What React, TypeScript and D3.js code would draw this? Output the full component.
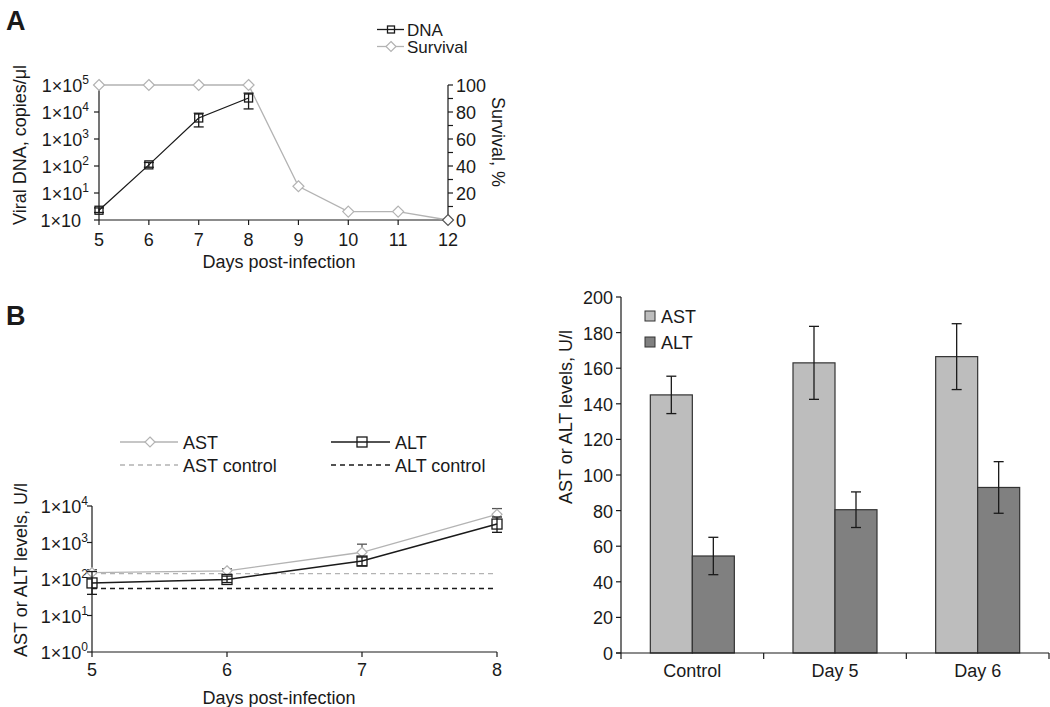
import React from "react";
import * as d3 from "d3";

// Panel A data
const daysA = [5, 6, 7, 8, 9, 10, 11, 12];
const dnaDays = [5, 6, 7, 8];
const dnaValues = [2.3, 110, 6000, 33000];
const dnaLow = [1.9, 90, 2800, 13000];
const dnaHigh = [2.8, 135, 9000, 50000];
const survival = [100, 100, 100, 100, 25, 6.25, 6.25, 0];
const decadesA = [0, 1, 2, 3, 4, 5];
const survTicks = [0, 20, 40, 60, 80, 100];

// Panel B left data
const daysB = [5, 6, 7, 8];
const astValues = [150, 168, 540, 5900];
const astHigh = [180, 190, 900, 8500];
const altValues = [78, 97, 310, 3200];
const altLow = [38, 80, 230, 1900];
const altHigh = [160, 120, 400, 5000];
const astControl = 140;
const altControl = 55;
const decadesB = [0, 1, 2, 3, 4];

// Panel B right data
const groups = ["Control", "Day 5", "Day 6"];
const astBar = [145, 163, 166.5];
const astBarErr = [10.5, 20.5, 18.5];
const altBar = [54.5, 80.5, 93];
const altBarErr = [10.5, 10, 14.5];
const barTicks = [0, 20, 40, 60, 80, 100, 120, 140, 160, 180, 200];

const FONT = "Liberation Sans, Arial, Helvetica, sans-serif";
const DARK = "#1a1a1a";
const LIGHT = "#b3b3b3";
const FS = 18;

function Sup({ x, y, base, exp, anchor = "end" }: any) {
  return (
    <text x={x} y={y} textAnchor={anchor} fontSize={FS} fill={DARK}>
      {base}
      {exp !== null ? (
        <tspan dy={-8} fontSize={12}>
          {exp}
        </tspan>
      ) : null}
    </text>
  );
}

function Square({ x, y, s = 9, stroke = DARK }: any) {
  return <rect x={x - s / 2} y={y - s / 2} width={s} height={s} fill="none" stroke={stroke} strokeWidth={1.3} />;
}
function Diamond({ x, y, s = 6, stroke = LIGHT }: any) {
  return (
    <path
      d={`M${x},${y - s}L${x + s},${y}L${x},${y + s}L${x - s},${y}Z`}
      fill="white"
      stroke={stroke}
      strokeWidth={1.2}
    />
  );
}
function ErrBar({ x, y1, y2, cap = 5, stroke = DARK }: any) {
  return (
    <g stroke={stroke} strokeWidth={1.3}>
      <line x1={x} x2={x} y1={y1} y2={y2} />
      <line x1={x - cap} x2={x + cap} y1={y1} y2={y1} />
      <line x1={x - cap} x2={x + cap} y1={y2} y2={y2} />
    </g>
  );
}

export default function App() {
  // Panel A scales
  const xA = d3.scaleLinear().domain([5, 12]).range([99, 448]);
  const yA = d3.scaleLog().domain([1, 1e5]).range([220, 85]);
  const ySurv = d3.scaleLinear().domain([0, 100]).range([220, 85]);
  const dnaLine = d3.line<number>().x((_, i) => xA(dnaDays[i])).y((v) => yA(v))(dnaValues) || "";
  const survLine = d3.line<number>().x((_, i) => xA(daysA[i])).y((v) => ySurv(v))(survival) || "";
  const survMinor = d3.range(0, 101, 10);

  // Panel B left
  const xB = d3.scaleLinear().domain([5, 8]).range([92, 497]);
  const yB = d3.scaleLog().domain([1, 1e4]).range([652, 506]);
  const astLine = d3.line<number>().x((_, i) => xB(daysB[i])).y((v) => yB(v))(astValues) || "";
  const altLine = d3.line<number>().x((_, i) => xB(daysB[i])).y((v) => yB(v))(altValues) || "";

  // Panel B right
  const xC = d3.scaleBand().domain(groups).range([621, 1049]).paddingInner(0).paddingOuter(0);
  const yC = d3.scaleLinear().domain([0, 200]).range([653, 297]);
  const barW = 42;

  return (
    <svg width={1050} height={707} style={{ display: "block", position: "absolute", left: 0, top: 0 }} fontFamily={FONT}>
      <rect width={1050} height={707} fill="white" />
      {/* Panel labels */}
      <text x={6} y={30} fontSize={27} fontWeight="bold" fill={DARK}>A</text>
      <text x={6} y={325} fontSize={27} fontWeight="bold" fill={DARK}>B</text>

      {/* ===== Panel A ===== */}
      <g>
        <line x1={xA(5)} x2={xA(12)} y1={220} y2={220} stroke={DARK} strokeWidth={1.2} />
        <line x1={99} x2={99} y1={85} y2={220} stroke={DARK} strokeWidth={1.2} />
        <line x1={448} x2={448} y1={85} y2={220} stroke={DARK} strokeWidth={1.2} />
        {daysA.map((d) => (
          <g key={d}>
            <line x1={xA(d)} x2={xA(d)} y1={220} y2={225} stroke={DARK} strokeWidth={1.2} />
            <text x={xA(d)} y={246} textAnchor="middle" fontSize={FS} fill={DARK}>{d}</text>
          </g>
        ))}
        {decadesA.map((e) => (
          <g key={e}>
            <line x1={94} x2={99} y1={yA(Math.pow(10, e))} y2={yA(Math.pow(10, e))} stroke={DARK} strokeWidth={1.2} />
            <Sup x={e === 0 ? 81 : 89} y={yA(Math.pow(10, e)) + 7} base="1×10" exp={e === 0 ? null : String(e)} />
          </g>
        ))}
        {survMinor.map((t) => (
          <line key={t} x1={448} x2={453} y1={ySurv(t)} y2={ySurv(t)} stroke={DARK} strokeWidth={1.2} />
        ))}
        {survTicks.map((t) => (
          <text key={t} x={456} y={ySurv(t) + 7} fontSize={FS} fill={DARK}>{t}</text>
        ))}
        <text transform={`translate(26,145) rotate(-90)`} textAnchor="middle" fontSize={FS} fill={DARK}>Viral DNA, copies/μl</text>
        <text transform={`translate(492,142) rotate(90)`} textAnchor="middle" fontSize={FS} fill={DARK}>Survival, %</text>
        <text x={279} y={268} textAnchor="middle" fontSize={FS} fill={DARK}>Days post-infection</text>

        {/* survival */}
        <path d={survLine} fill="none" stroke={LIGHT} strokeWidth={1.3} />
        {survival.map((v, i) => (
          <Diamond key={i} x={xA(daysA[i])} y={ySurv(v)} s={5.5} stroke={i === survival.length - 1 ? "#555" : LIGHT} />
        ))}
        {/* DNA */}
        <path d={dnaLine} fill="none" stroke={DARK} strokeWidth={1.3} />
        {dnaValues.map((v, i) => (
          <g key={i}>
            <ErrBar x={xA(dnaDays[i])} y1={yA(dnaHigh[i])} y2={yA(dnaLow[i])} cap={5} />
            <Square x={xA(dnaDays[i])} y={yA(v)} s={8} />
          </g>
        ))}
        {/* legend */}
        <line x1={377} x2={404} y1={29.5} y2={29.5} stroke={DARK} strokeWidth={1.3} />
        <Square x={391} y={29.5} s={7} />
        <text x={407} y={35.5} fontSize={17} fill={DARK}>DNA</text>
        <line x1={377} x2={404} y1={46.5} y2={46.5} stroke={LIGHT} strokeWidth={1.3} />
        <Diamond x={391} y={46.5} s={5} />
        <text x={407} y={52.5} fontSize={17} fill={DARK}>Survival</text>
      </g>

      {/* ===== Panel B left ===== */}
      <g>
        <line x1={92} x2={92} y1={506} y2={652} stroke={DARK} strokeWidth={1.2} />
        <line x1={92} x2={497} y1={652} y2={652} stroke={DARK} strokeWidth={1.2} />
        {daysB.map((d) => (
          <g key={d}>
            <line x1={xB(d)} x2={xB(d)} y1={652} y2={657} stroke={DARK} strokeWidth={1.2} />
            <text x={xB(d)} y={676} textAnchor="middle" fontSize={FS} fill={DARK}>{d}</text>
          </g>
        ))}
        {decadesB.map((e) => (
          <g key={e}>
            <line x1={87} x2={92} y1={yB(Math.pow(10, e))} y2={yB(Math.pow(10, e))} stroke={DARK} strokeWidth={1.2} />
            <Sup x={88} y={yB(Math.pow(10, e)) + 7} base="1×10" exp={String(e)} />
          </g>
        ))}
        <text transform={`translate(27,570) rotate(-90)`} textAnchor="middle" fontSize={FS} fill={DARK}>AST or ALT levels, U/l</text>
        <text x={279} y={704} textAnchor="middle" fontSize={FS} fill={DARK}>Days post-infection</text>

        {/* controls */}
        <line x1={92} x2={497} y1={yB(astControl)} y2={yB(astControl)} stroke={LIGHT} strokeWidth={1.3} strokeDasharray="5,4" />
        <line x1={92} x2={497} y1={yB(altControl)} y2={yB(altControl)} stroke={DARK} strokeWidth={1.3} strokeDasharray="5,4" />

        {/* AST */}
        <path d={astLine} fill="none" stroke={LIGHT} strokeWidth={1.3} />
        {astValues.map((v, i) => (
          <g key={i}>
            <ErrBar x={xB(daysB[i])} y1={yB(astHigh[i])} y2={yB(v)} cap={5} stroke="#555" />
            <Diamond x={xB(daysB[i])} y={yB(v)} s={5} />
          </g>
        ))}
        {/* ALT */}
        <path d={altLine} fill="none" stroke={DARK} strokeWidth={1.5} />
        {altValues.map((v, i) => (
          <g key={i}>
            <ErrBar x={xB(daysB[i])} y1={yB(altHigh[i])} y2={yB(altLow[i])} cap={5} />
            <Square x={xB(daysB[i])} y={yB(v)} s={10} />
          </g>
        ))}

        {/* legend */}
        <line x1={120} x2={178} y1={442} y2={442} stroke={LIGHT} strokeWidth={1.3} />
        <Diamond x={150} y={442} s={5} />
        <text x={183} y={448.5} fontSize={FS} fill={DARK}>AST</text>
        <line x1={120} x2={178} y1={465} y2={465} stroke={LIGHT} strokeWidth={1.3} strokeDasharray="5,4" />
        <text x={183} y={471.5} fontSize={FS} fill={DARK}>AST control</text>
        <line x1={331} x2={390} y1={442} y2={442} stroke={DARK} strokeWidth={1.5} />
        <Square x={362} y={442} s={10} />
        <text x={395} y={448.5} fontSize={FS} fill={DARK}>ALT</text>
        <line x1={331} x2={390} y1={465} y2={465} stroke={DARK} strokeWidth={1.3} strokeDasharray="5,4" />
        <text x={395} y={471.5} fontSize={FS} fill={DARK}>ALT control</text>
      </g>

      {/* ===== Panel B right ===== */}
      <g>
        {groups.map((g, i) => {
          const c = (xC(g) as number) + xC.bandwidth() / 2;
          return (
            <g key={g}>
              <rect x={c - barW} y={yC(astBar[i])} width={barW} height={653 - yC(astBar[i])} fill="#bdbdbd" stroke="#333" strokeWidth={1.2} />
              <rect x={c} y={yC(altBar[i])} width={barW} height={653 - yC(altBar[i])} fill="#808080" stroke="#333" strokeWidth={1.2} />
              <ErrBar x={c - barW / 2} y1={yC(astBar[i] + astBarErr[i])} y2={yC(astBar[i] - astBarErr[i])} cap={5} />
              <ErrBar x={c + barW / 2} y1={yC(altBar[i] + altBarErr[i])} y2={yC(altBar[i] - altBarErr[i])} cap={5} />
              <text x={c} y={677} textAnchor="middle" fontSize={FS} fill={DARK}>{g}</text>
            </g>
          );
        })}
        <line x1={621} x2={621} y1={297} y2={653} stroke={DARK} strokeWidth={1.2} />
        <line x1={616} x2={1049} y1={653} y2={653} stroke={DARK} strokeWidth={1.2} />
        {[...groups.map((g) => xC(g) as number), 1049].map((x, i) => (
          <line key={i} x1={x} x2={x} y1={653} y2={659} stroke={DARK} strokeWidth={1.2} />
        ))}
        {barTicks.map((t) => (
          <g key={t}>
            <line x1={616} x2={621} y1={yC(t)} y2={yC(t)} stroke={DARK} strokeWidth={1.2} />
            <text x={613} y={yC(t) + 7} textAnchor="end" fontSize={FS} fill={DARK}>{t}</text>
          </g>
        ))}
        <text transform={`translate(572,417) rotate(-90)`} textAnchor="middle" fontSize={FS} fill={DARK}>AST or ALT levels, U/l</text>
        {/* legend */}
        <rect x={645} y={311} width={10} height={10} fill="#bdbdbd" stroke="#333" strokeWidth={1} />
        <text x={661} y={323} fontSize={FS} fill={DARK}>AST</text>
        <rect x={645} y={337} width={10} height={10} fill="#808080" stroke="#333" strokeWidth={1} />
        <text x={661} y={349} fontSize={FS} fill={DARK}>ALT</text>
      </g>
    </svg>
  );
}
